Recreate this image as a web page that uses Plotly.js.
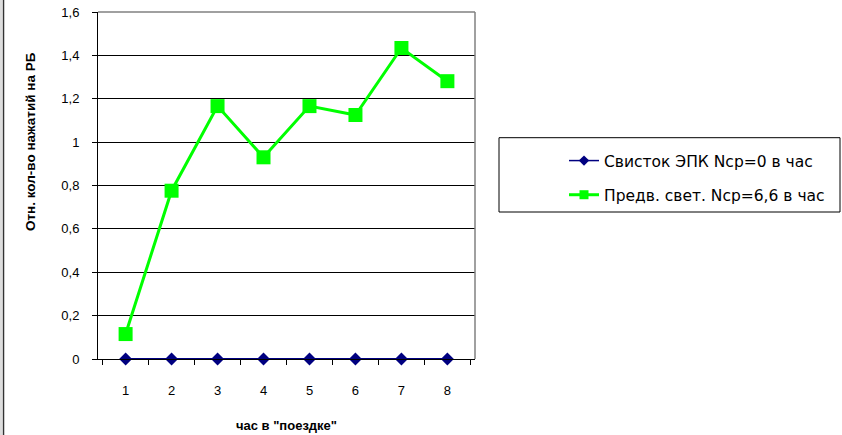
<!DOCTYPE html>
<html>
<head>
<meta charset="utf-8">
<script src="https://cdn.plot.ly/plotly-3.0.1.min.js"></script>
<style>html,body{margin:0;padding:0;background:#fff;}#chart{width:842px;height:435px;}</style>
</head>
<body>
<div id="chart"></div>
<script>
// ---- data ----
const hours = ['1', '2', '3', '4', '5', '6', '7', '8'];
const whistleName = 'Свисток ЭПК Ncp=0 в час';
const whistleValues = [0, 0, 0, 0, 0, 0, 0, 0];
const signalName = 'Предв. свет. Ncp=6,6 в час';
const signalValues = [0.115, 0.776, 1.166, 0.93, 1.166, 1.125, 1.434, 1.281];
const yTitle = 'Отн. кол-во нажатий на РБ';
const xTitle = 'час в "поездке"';

// ---- layout helpers (pixel -> paper) ----
const W = 842, H = 435;
const M = {l: 98, r: 367, t: 12, b: 76};
const pw = W - M.l - M.r, ph = H - M.t - M.b;
const px = x => (x - M.l) / pw;
const py = y => (H - M.b - y) / ph;

const base = {family: 'Liberation Sans, Arial, sans-serif', color: '#000'};
const blue = '#000080', green = '#00FF00';

const traces = [
  {
    x: hours, y: whistleValues, name: whistleName, type: 'scatter', mode: 'lines+markers',
    showlegend: false, cliponaxis: false,
    line: {color: blue, width: 2},
    marker: {symbol: 'diamond', size: 10, color: blue}
  },
  {
    x: hours, y: signalValues, name: signalName, type: 'scatter', mode: 'lines+markers',
    showlegend: false, cliponaxis: false,
    line: {color: green, width: 3},
    marker: {symbol: 'square', size: 14, color: green}
  },
  // legend entries (smaller legend symbols, as in the reference)
  {
    x: [null], y: [null], name: whistleName, type: 'scatter', mode: 'lines+markers',
    legendgroup: 'a', showlegend: true,
    line: {color: blue, width: 1.5},
    marker: {symbol: 'diamond', size: 8, color: blue}
  },
  {
    x: [null], y: [null], name: signalName, type: 'scatter', mode: 'lines+markers',
    legendgroup: 'b', showlegend: true,
    line: {color: green, width: 3},
    marker: {symbol: 'square', size: 9, color: green}
  }
];

const layout = {
  width: W, height: H,
  margin: M,
  paper_bgcolor: '#fff', plot_bgcolor: '#fff',
  separators: ', ',
  font: base,
  showlegend: true,
  legend: {
    x: px(564), y: py(144), xanchor: 'left', yanchor: 'top',
    traceorder: 'grouped', tracegroupgap: 11,
    bgcolor: 'rgba(0,0,0,0)', borderwidth: 0,
    font: {family: 'DejaVu Sans, sans-serif', size: 15.5, color: '#000'}
  },
  xaxis: {
    type: 'category', tickson: 'boundaries',
    ticks: 'outside', ticklen: 5, tickcolor: '#000', tickwidth: 1,
    showline: true, linecolor: '#000', linewidth: 1,
    showgrid: false, zeroline: false,
    tickfont: {family: base.family, size: 13, color: '#000'},
    ticklabelstandoff: 19,
    title: {text: xTitle, standoff: 24, font: {family: base.family, size: 13, weight: 'bold', color: '#000'}},
    fixedrange: true
  },
  yaxis: {
    range: [0, 1.6], tick0: 0, dtick: 0.2,
    ticks: 'outside', ticklen: 5, tickcolor: '#000', tickwidth: 1,
    showline: true, linecolor: '#000', linewidth: 1,
    showgrid: true, gridcolor: '#000', gridwidth: 1,
    zeroline: false,
    tickfont: {family: base.family, size: 13, color: '#000'},
    ticklabelstandoff: 10,
    fixedrange: true
  },
  annotations: [
    {text: yTitle, xref: 'paper', yref: 'paper', x: px(30), y: py(142), xanchor: 'center', yanchor: 'middle',
     textangle: -90, showarrow: false,
     font: {family: base.family, size: 13.5, weight: 'bold', color: '#000'}}
  ],
  shapes: [
    {type: 'line', xref: 'paper', yref: 'paper', x0: 0, x1: 1, y0: 1, y1: 1, line: {color: '#808080', width: 1.5}, layer: 'above'},
    {type: 'line', xref: 'paper', yref: 'paper', x0: 1, x1: 1, y0: 0, y1: 1, line: {color: '#808080', width: 1.5}, layer: 'above'},
    {type: 'rect', xref: 'paper', yref: 'paper', x0: px(499), x1: px(840), y0: py(212), y1: py(137.7), line: {color: '#000', width: 1}},
    {type: 'line', xref: 'paper', yref: 'paper', x0: px(3.5), x1: px(3.5), y0: py(0), y1: py(435), line: {color: '#333', width: 1.5}},
    {type: 'line', xref: 'paper', yref: 'paper', x0: px(1), x1: px(1), y0: py(0), y1: py(435), line: {color: '#bbb', width: 1}}
  ]
};

Plotly.newPlot('chart', traces, layout, {displayModeBar: false, staticPlot: true});
</script>
</body>
</html>
